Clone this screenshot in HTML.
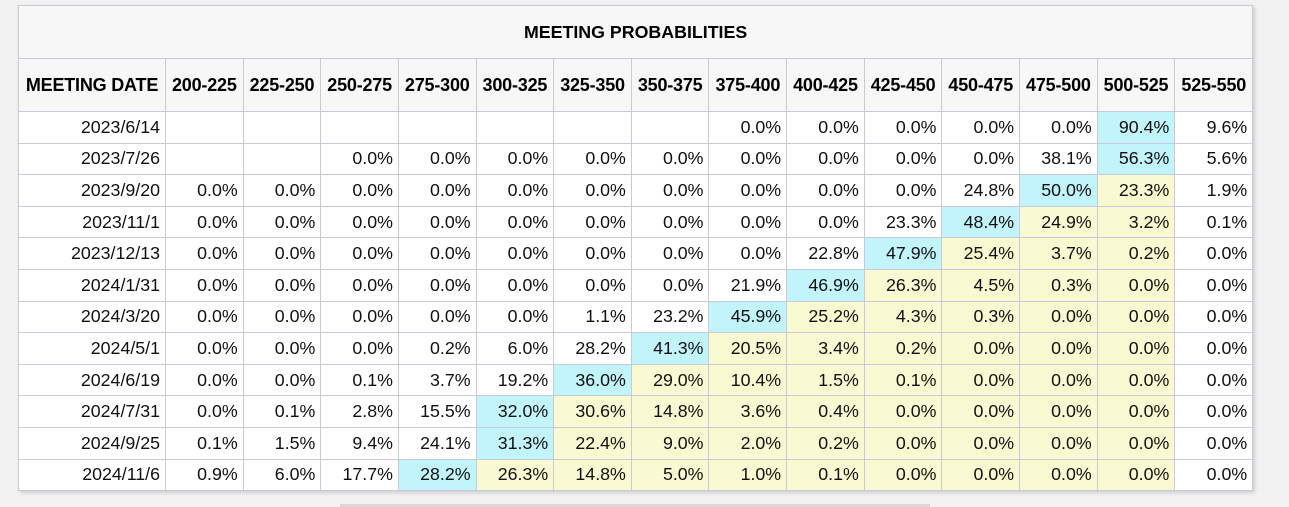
<!DOCTYPE html>
<html><head><meta charset="utf-8"><style>
body{margin:0;width:1289px;height:507px;background:#f2f2f2;font-family:"Liberation Sans",Arial,sans-serif;overflow:hidden;position:relative}
table{position:absolute;left:18px;top:5px;width:1234px;table-layout:fixed;border-collapse:collapse;background:#fff;box-shadow:2px 2px 4px rgba(0,0,0,.15)}
td,th{border:1px solid #c9c9d9;font-size:17.8px;color:#111;padding:0 5px 0 0;height:30.6px;text-align:right;overflow:hidden;white-space:nowrap}
th{background:#f7f7f7;font-weight:bold;text-align:center;padding:0;height:52px;font-size:18px;color:#000;letter-spacing:-0.2px}
th.title{height:52px;font-size:17.8px;letter-spacing:0}
td.b{background:#c2f4fb}
td.y{background:#fafad2}
#bar{position:absolute;left:340px;top:504px;width:590px;height:3px;background:#d8d8d8}
</style></head><body>
<table>
<colgroup><col style="width:147px"><col span="14" style="width:77.65px"></colgroup>
<thead>
<tr><th class="title" colspan="15">MEETING PROBABILITIES</th></tr>
<tr id="hdr"></tr>
</thead>
<tbody id="tb"></tbody>
</table>
<div id="bar"></div>
<script>
const ranges=["200-225","225-250","250-275","275-300","300-325","325-350","350-375","375-400","400-425","425-450","450-475","475-500","500-525","525-550"];
const dates=["2023/6/14","2023/7/26","2023/9/20","2023/11/1","2023/12/13","2024/1/31","2024/3/20","2024/5/1","2024/6/19","2024/7/31","2024/9/25","2024/11/6"];
const probs=[
[null,null,null,null,null,null,null,0,0,0,0,0,90.4,9.6],
[null,null,0,0,0,0,0,0,0,0,0,38.1,56.3,5.6],
[0,0,0,0,0,0,0,0,0,0,24.8,50.0,23.3,1.9],
[0,0,0,0,0,0,0,0,0,23.3,48.4,24.9,3.2,0.1],
[0,0,0,0,0,0,0,0,22.8,47.9,25.4,3.7,0.2,0],
[0,0,0,0,0,0,0,21.9,46.9,26.3,4.5,0.3,0,0],
[0,0,0,0,0,1.1,23.2,45.9,25.2,4.3,0.3,0,0,0],
[0,0,0,0.2,6.0,28.2,41.3,20.5,3.4,0.2,0,0,0,0],
[0,0,0.1,3.7,19.2,36.0,29.0,10.4,1.5,0.1,0,0,0,0],
[0,0.1,2.8,15.5,32.0,30.6,14.8,3.6,0.4,0,0,0,0,0],
[0.1,1.5,9.4,24.1,31.3,22.4,9.0,2.0,0.2,0,0,0,0,0],
[0.9,6.0,17.7,28.2,26.3,14.8,5.0,1.0,0.1,0,0,0,0,0]];
const hdr=document.getElementById('hdr');
let h=document.createElement('th');h.textContent='MEETING DATE';


hdr.appendChild(h);
ranges.forEach(r=>{const t=document.createElement('th');t.textContent=r;


hdr.appendChild(t);});
const tb=document.getElementById('tb');
const cur=12;
dates.forEach((d,i)=>{
 const tr=document.createElement('tr');
 
 
 const c=document.createElement('td');c.textContent=d;
 
 
 tr.appendChild(c);
 const row=probs[i];let mx=0;row.forEach((v,j)=>{if(v!==null&&(row[mx]===null||v>row[mx]))mx=j;});
 row.forEach((v,j)=>{const td=document.createElement('td');
  
  
  if(v!==null)td.textContent=v.toFixed(1)+'%';
  if(j===mx)td.className='b';else if(j>mx&&j<=cur)td.className='y';
  tr.appendChild(td);});
 tb.appendChild(tr);
});
</script>
</body></html>
